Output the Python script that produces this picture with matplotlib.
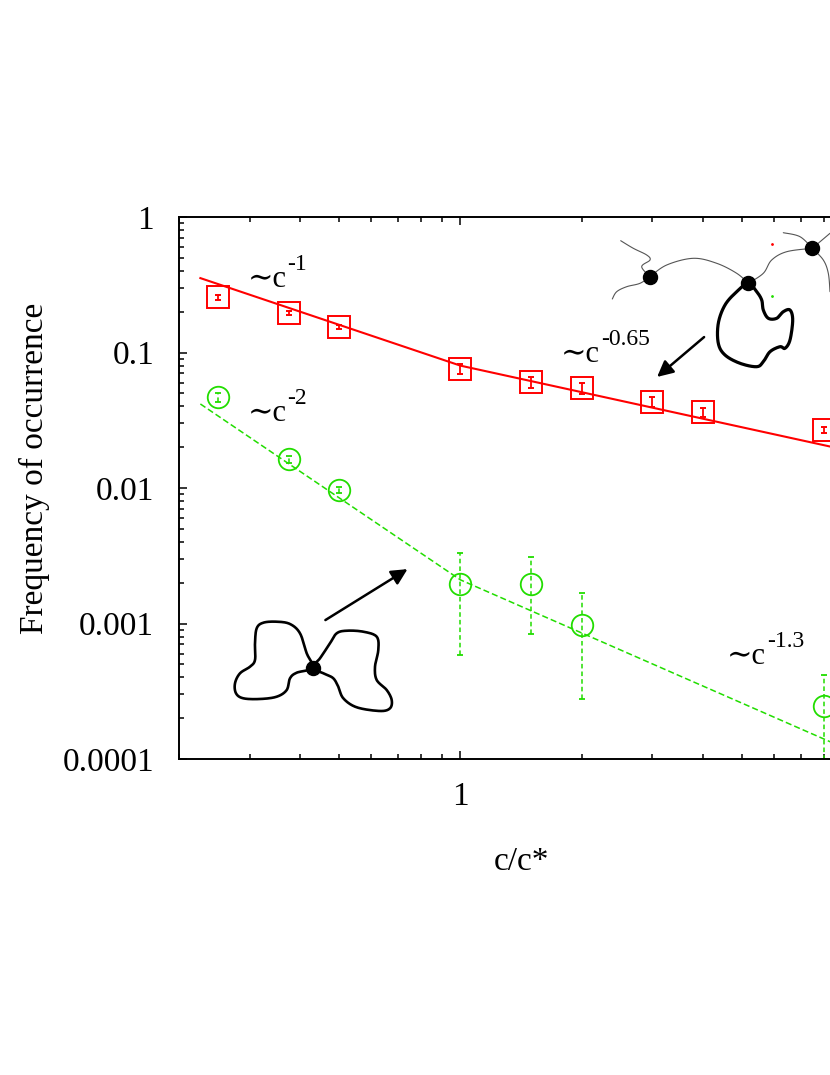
import matplotlib
matplotlib.use('Agg')
import matplotlib.pyplot as plt
from matplotlib.ticker import FuncFormatter, NullFormatter, LogLocator
from matplotlib.transforms import Affine2D
import numpy as np

plt.rcParams['font.family'] = ['Liberation Serif', 'DejaVu Serif']

# data
conc = [0.25, 0.375, 0.5, 1.0, 1.5, 2.0, 3.0, 4.0, 8.0]
red_freq = [0.255, 0.197, 0.155, 0.0758, 0.0603, 0.0544, 0.0434, 0.0362, 0.0268]
red_err = [0.009, 0.007, 0.005, 0.0063, 0.0054, 0.0048, 0.0039, 0.0025, 0.0014]

conc_g = [0.25, 0.375, 0.5, 1.0, 1.5, 2.0, 8.0]
green_freq = [0.0467, 0.0163, 0.00966, 0.00196, 0.00196, 0.000975, 0.000246]
green_err = [0.0033, 0.0009, 0.0005, 0.00137, 0.00113, 0.0007, 0.00017]

# power law fits (break at c/c* = 1)
fit_x = [0.226, 1.0, 10.0]
red_fit = [0.354, 0.08, 0.0179]
green_fit = [0.0417, 0.0021, 0.000105]

labels = ['\u223cc', '\u223cc', '\u223cc', '\u223cc']
sups = ['-1', '-2', '-0.65', '-1.3']
label_x = [0.296, 0.296, 1.78, 4.6]
label_y = [0.304, 0.0314, 0.0855, 0.000502]

# arrows: (tail, head) in data coords
arrows = [((0.462, 0.00106), (0.739, 0.00252)),
          ((4.03, 0.130), (3.08, 0.066))]

RED = '#ff0000'
GREEN = '#22dd00'

fig = plt.figure(figsize=(8.3, 10.75), dpi=100)
W, H = 830.0, 1075.0
ax = fig.add_axes([179 / W, (H - 759) / H, (863 - 179) / W, (759 - 217) / H])
ax.set_xscale('log')
ax.set_yscale('log')
ax.set_xlim(0.2, 10)
ax.set_ylim(0.0001, 1)

ax.plot(fit_x, red_fit, '-', color=RED, lw=1.5)
ax.plot(fit_x, green_fit, color=GREEN, lw=1.1, linestyle=(0, (4, 2)))

eb = ax.errorbar(conc, red_freq, yerr=red_err, fmt='s', color=RED, mfc='none',
                 mec=RED, ms=15.5, mew=1.4, capsize=2.5, elinewidth=1.3, capthick=1.3)
eb = ax.errorbar(conc_g, green_freq, yerr=green_err, fmt='o', color=GREEN, mfc='none',
                 mec=GREEN, ms=15.5, mew=1.3, capsize=2.5, elinewidth=1.1, capthick=1.1)
eb[2][0].set_linestyle((0, (3, 2)))

ax.tick_params(which='both', direction='in', top=True, right=True, width=1.1)
ax.tick_params(which='major', length=6, labelsize=24)
ax.tick_params(axis='y', which='major', pad=18)
ax.tick_params(axis='x', which='major', pad=16)
ax.tick_params(which='minor', length=3.5)
ax.set_xticks([1])
ax.xaxis.set_minor_locator(LogLocator(base=10, subs=np.arange(2, 10)))
ax.yaxis.set_minor_locator(LogLocator(base=10, subs=np.arange(2, 10), numticks=20))
fmt = FuncFormatter(lambda v, p: '%g' % v)
ax.xaxis.set_major_formatter(fmt)
ax.yaxis.set_major_formatter(fmt)
ax.xaxis.set_minor_formatter(NullFormatter())
ax.yaxis.set_minor_formatter(NullFormatter())
for s in ax.spines.values():
    s.set_linewidth(1.4)

ax.set_xlabel('c/c*', fontsize=24)
ax.set_ylabel('Frequency of occurrence', fontsize=24)
ax.xaxis.set_label_coords(0.5, (759 - 846) / (759 - 217.0))
ax.yaxis.set_label_coords((50 - 179) / (863 - 179.0), (759 - 468) / (759 - 217.0))

for lab, sup, lx, ly in zip(labels, sups, label_x, label_y):
    t = ax.text(lx, ly, lab, fontsize=22, va='baseline', ha='left')
    ax.annotate(sup, xy=(1, 0), xycoords=t, xytext=(0.5, 17), textcoords='offset points',
                fontsize=17, va='baseline', ha='left')

for (tail, head) in arrows:
    ax.annotate('', xy=head, xytext=tail,
                arrowprops=dict(arrowstyle='-|>', lw=1.8, color='k',
                                mutation_scale=24, shrinkA=0, shrinkB=0))

# sketches, in pixel coords of the picture
pix = Affine2D().scale(1 / W, -1 / H).translate(0, 1) + fig.transFigure


def smooth(pts, closed=False, n=12):
    p = np.array(pts, float)
    if closed:
        p = np.vstack([p[-1], p, p[0], p[1]])
    else:
        p = np.vstack([p[0], p, p[-1]])
    t = np.linspace(0, 1, n, endpoint=False)[:, None]
    out = []
    for i in range(1, len(p) - 2):
        p0, p1, p2, p3 = p[i - 1], p[i], p[i + 1], p[i + 2]
        out.append(0.5 * (2 * p1 + (-p0 + p2) * t + (2 * p0 - 5 * p1 + 4 * p2 - p3) * t ** 2
                          + (-p0 + 3 * p1 - 3 * p2 + p3) * t ** 3))
    out.append(p[-2][None])
    return np.vstack(out)


def draw(pts, closed=False, lw=1.7, color='k'):
    c = smooth(pts, closed)
    fig.add_artist(plt.Line2D(c[:, 0], c[:, 1], transform=pix, lw=lw, color=color,
                              solid_capstyle='round', solid_joinstyle='round'))


def dot(x, y, r=7):
    fig.add_artist(plt.Line2D([x], [y], transform=pix, marker='o', ms=r * 2 * 0.72,
                              color='k', mec='k'))


bow_left = [(312.7, 667.7), (306.7, 653.3), (300, 633.3), (290, 624), (276.7, 621.7),
            (263.3, 622.7), (256.7, 628.3), (255, 643.3), (255, 660), (250, 666.7),
            (240, 673.3), (235, 683.3), (236, 693.3), (243.3, 698.3), (260, 699),
            (276.7, 696.7), (286.7, 690), (290, 678.3), (296.7, 672.7)]
bow_right = [(312.7, 667.7), (320, 658.3), (330, 643.3), (336.7, 633.3), (346.7, 630.7),
             (363.3, 631.7), (376.7, 636.7), (378.3, 650), (375, 666.7), (376.7, 680),
             (386.7, 690), (391.7, 700), (390, 708.3), (380, 711), (356.7, 707.3),
             (343.3, 698.3), (338.3, 686.7), (333.3, 678.3), (325, 674)]
draw(bow_left, closed=True, lw=1.9)
draw(bow_right, closed=True, lw=1.9)
dot(312.7, 667.7)

chains = [
    [(620.7, 240.7), (633.3, 248.3), (646.7, 255), (650, 260), (641.7, 266.7), (650, 276.7)],
    [(650, 276.7), (640, 283.3), (626.7, 286.7), (616.7, 291.7), (612.3, 299)],
    [(650, 276.7), (666.7, 265), (693.3, 258.3), (716.7, 263.3), (736.7, 273.3), (748.3, 283.3)],
    [(748.3, 283.3), (763.3, 273.3), (771.7, 260), (786.7, 251.7), (812.3, 248.3)],
    [(812.3, 248.3), (800, 236.7), (783.3, 232.7)],
    [(812.3, 248.3), (830, 233.3)],
    [(812.3, 248.3), (823.3, 260), (828.3, 273.3), (830, 291.7)],
]
for ch in chains:
    draw(ch, lw=0.8, color='#555555')

loop = [(748.3, 283.3), (736.7, 291.7), (725, 305), (718.3, 323.3), (718.3, 343.3),
        (725, 355), (740, 363.3), (756.7, 366.7), (763.3, 361.7), (770, 351.7),
        (780, 346.7), (785, 348.3), (790, 340), (792.7, 320), (790, 310),
        (783.3, 311.7), (776.7, 318.3), (768.3, 318.3), (763.3, 310), (761.7, 300),
        (756.7, 291.7)]
draw(loop, closed=True, lw=2.3)
dot(650, 276.7)
dot(748.3, 283.3)
dot(812.3, 248.3)
fig.add_artist(plt.Line2D([772.3], [244.3], transform=pix, marker='.', ms=2, color=RED))
fig.add_artist(plt.Line2D([772.3], [295.7], transform=pix, marker='.', ms=2, color=GREEN))

fig.savefig('out.png', dpi=100)
